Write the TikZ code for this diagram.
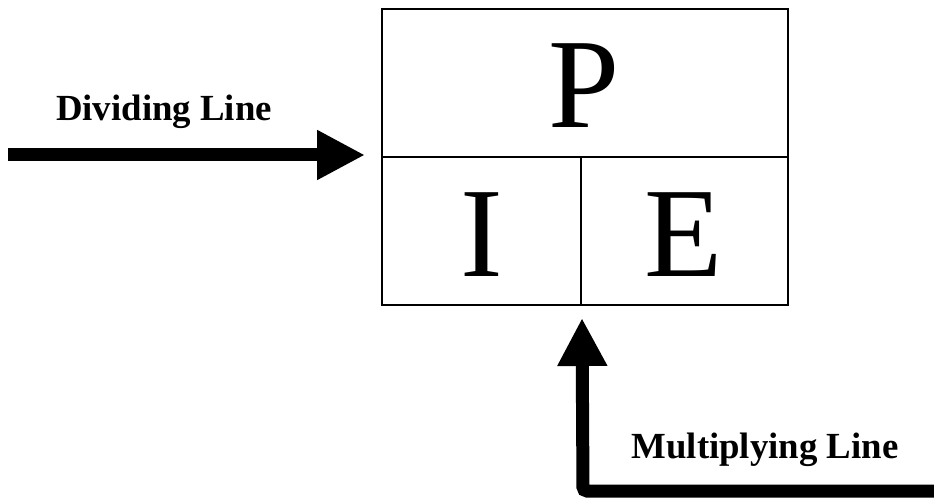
\documentclass[tikz,border=0pt]{standalone}
\usepackage{fontspec}
\setmainfont{Liberation Serif}
\usetikzlibrary{arrows.meta}
\begin{document}
\begin{tikzpicture}[x=0.75pt,y=-0.75pt,
  cellline/.style={line width=1.5pt},
  bigletter/.style={anchor=base,inner sep=0pt,font=\fontsize{96}{100}\selectfont},
  lbl/.style={anchor=base,inner sep=0pt,font=\fontsize{27.6}{30}\selectfont\bfseries},
  fatarrow/.style={line width=9.75pt,-{Triangle[length=36pt,width=35pt]}}]
\useasboundingbox (0,0) rectangle (934,498);
\node[cellline,draw,inner sep=0pt,minimum width=304.5pt,minimum height=222pt] (box) at (585,157) {};
\coordinate (mid) at (581,157);
\draw[cellline] (box.west) -- (box.east);
\draw[cellline] (mid) -- (mid |- box.south);
\node[bigletter] (P) at (584,128) {P};
\node[bigletter] (I) at (481.5,277) {I};
\node[bigletter] (E) at (683.5,277) {E};
\node[lbl] (div) at (164,121) {Dividing Line};
\node[lbl] (mul) at (765,458) {Multiplying Line};
\coordinate (ls) at (8,155);
\coordinate (le) at (365,155);
\draw[fatarrow] (ls) -- (le);
\coordinate (bs) at (934,491);
\coordinate (bc) at (583,491);
\coordinate (be) at (582,318);
\draw[fatarrow,rounded corners=3pt] (bs) -- (bc) -- (be);
\end{tikzpicture}
\end{document}
